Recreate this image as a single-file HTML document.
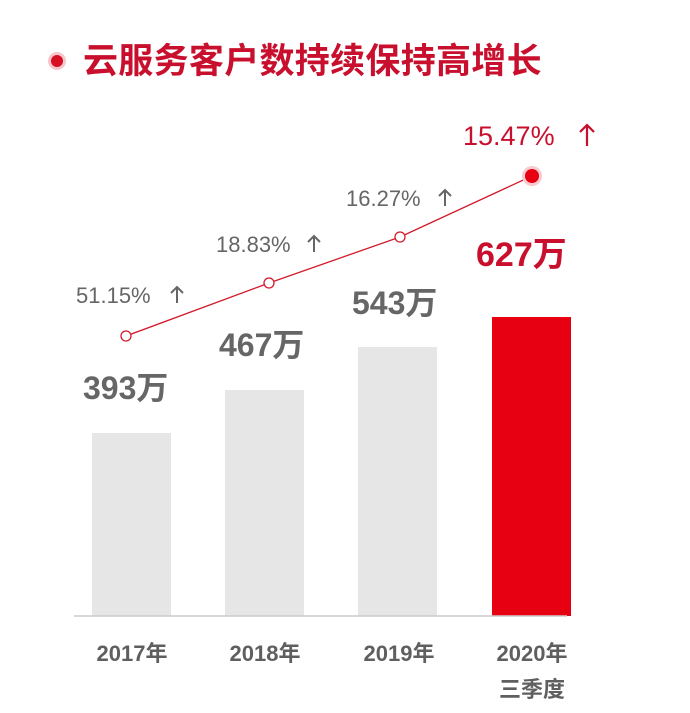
<!DOCTYPE html>
<html><head><meta charset="utf-8"><style>
body{margin:0;background:#fff;}
svg text{font-family:"Liberation Sans","Noto Sans CJK SC",sans-serif;}
</style></head><body>
<svg width="690" height="708" viewBox="0 0 690 708" xmlns="http://www.w3.org/2000/svg">
<circle cx="57" cy="61" r="9" fill="#f6c6cc"/>
<circle cx="57" cy="61" r="6" fill="#d70f22"/>
<text x="83" y="73" font-size="35" font-weight="bold" fill="#c8102e" letter-spacing="0.3">云服务客户数持续保持高增长</text>
<rect x="92" y="433" width="79" height="183" fill="#e6e6e6"/>
<rect x="225" y="390" width="79" height="226" fill="#e6e6e6"/>
<rect x="358" y="347" width="79" height="269" fill="#e6e6e6"/>
<rect x="492" y="317" width="79" height="299" fill="#e60012"/>
<line x1="74" y1="616" x2="567" y2="616" stroke="#cccccc" stroke-width="1.5"/>
<polyline points="126,336 269,283 400,237 532,176" fill="none" stroke="#d21a2a" stroke-width="1.3"/>
<circle cx="126" cy="336" r="5" fill="#fff" stroke="#d21a2a" stroke-width="1.3"/>
<circle cx="269" cy="283" r="5" fill="#fff" stroke="#d21a2a" stroke-width="1.3"/>
<circle cx="400" cy="237" r="5" fill="#fff" stroke="#d21a2a" stroke-width="1.3"/>
<circle cx="532" cy="176" r="10" fill="#f8c9ce"/>
<circle cx="532" cy="176" r="7" fill="#e60012"/>
<g font-size="22" fill="#666">
<text x="76" y="303">51.15%</text>
<text x="216" y="252">18.83%</text>
<text x="346" y="206">16.27%</text>
</g>
<g stroke="#666" stroke-width="2" fill="none">
<path d="M177 303V287M171 293L177 287L183 293"/>
<path d="M314 252V236M308 242L314 236L320 242"/>
<path d="M445 206V190M439 196L445 190L451 196"/>
</g>
<text x="463" y="145" font-size="27" fill="#c8102e">15.47%</text>
<path d="M587 146V125M580 132L587 125L594 132" stroke="#c8102e" stroke-width="2.2" fill="none"/>
<g font-size="32" font-weight="bold" fill="#666">
<text x="83" y="399">393万</text>
<text x="219" y="356">467万</text>
<text x="352" y="314">543万</text>
</g>
<text x="476" y="266" font-size="34" font-weight="bold" fill="#c8102e">627万</text>
<g font-size="22" font-weight="bold" fill="#5f5f5f" text-anchor="middle">
<text x="132" y="661">2017年</text>
<text x="265" y="661">2018年</text>
<text x="399" y="661">2019年</text>
<text x="532" y="661">2020年</text>
<text x="532" y="697">三季度</text>
</g>
</svg>
</body></html>
